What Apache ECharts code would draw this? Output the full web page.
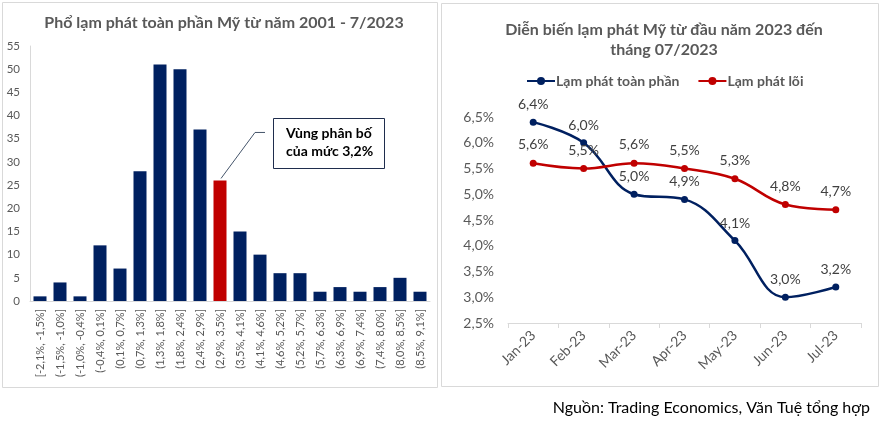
<!DOCTYPE html>
<html><head><meta charset="utf-8">
<script src="https://cdn.jsdelivr.net/npm/echarts@6/dist/echarts.min.js"></script>
<style>html,body{margin:0;padding:0;background:#fff}#c{width:882px;height:428px}</style>
</head><body><div id="c"></div>
<script>
const binLabels = ['[-2,1%, -1,5%]','(-1,5%, -1,0%]','(-1,0%, -0,4%]','(-0,4%, 0,1%]','(0,1%, 0,7%]','(0,7%, 1,3%]','(1,3%, 1,8%]','(1,8%, 2,4%]','(2,4%, 2,9%]','(2,9%, 3,5%]','(3,5%, 4,1%]','(4,1%, 4,6%]','(4,6%, 5,2%]','(5,2%, 5,7%]','(5,7%, 6,3%]','(6,3%, 6,9%]','(6,9%, 7,4%]','(7,4%, 8,0%]','(8,0%, 8,5%]','(8,5%, 9,1%]'];
const binCounts = [1,4,1,12,7,28,51,50,37,26,15,10,6,6,2,3,2,3,5,2];
const highlightIndex = 9;
const months = ['Jan-23','Feb-23','Mar-23','Apr-23','May-23','Jun-23','Jul-23'];
const headline = [6.4,6.0,5.0,4.9,4.1,3.0,3.2];
const core = [5.6,5.5,5.6,5.5,5.3,4.8,4.7];

const FONT = 'Lato, "Open Sans", sans-serif';
const GRAY = '#595959';
const NAVY = '#002060', RED = '#C00000';
const pct = v => v.toFixed(1).replace('.', ',') + '%';

const chart = echarts.init(document.getElementById('c'));
const option = {
  animation: false,
  textStyle: {fontFamily: FONT},
  title: [
    {text: 'Phổ lạm phát toàn phần Mỹ từ năm 2001 - 7/2023', left: 219, top: 10, textAlign: 'center',
     textStyle: {fontFamily: FONT, fontSize: 16, fontWeight: 'bold', color: GRAY}},
    {text: 'Diễn biến lạm phát Mỹ từ đầu năm 2023 đến\ntháng 07/2023', left: 659, top: 15, textAlign: 'center',
     textStyle: {fontFamily: FONT, fontSize: 16, fontWeight: 'bold', color: GRAY, lineHeight: 20}}
  ],
  legend: {
    data: ['Lạm phát toàn phần', 'Lạm phát lõi'], left: 521, top: 69, itemGap: 18, itemWidth: 28, itemHeight: 10,
    textStyle: {fontFamily: FONT, fontSize: 14, fontWeight: 'bold', color: GRAY, padding: [0,0,0,-4]}
  },
  grid: [
    {left: 30, right: 452, top: 46, bottom: 127},
    {left: 508, right: 21, top: 117, bottom: 105}
  ],
  xAxis: [
    {type: 'category', gridIndex: 0, data: binLabels,
     axisLine: {lineStyle: {color: '#d9d9d9'}}, axisTick: {show: false},
     axisLabel: {rotate: 90, fontSize: 11, color: GRAY, fontFamily: FONT, margin: 8, interval: 0}},
    {type: 'category', gridIndex: 1, data: months, boundaryGap: true,
     axisLine: {lineStyle: {color: '#d9d9d9'}}, axisTick: {show: true, length: 5, lineStyle: {color: '#d9d9d9'}},
     axisLabel: {rotate: 45, fontSize: 14, color: GRAY, fontFamily: FONT, margin: 10, interval: 0}}
  ],
  yAxis: [
    {type: 'value', gridIndex: 0, min: 0, max: 55, interval: 5,
     axisLine: {show: true, lineStyle: {color: '#d9d9d9'}}, axisTick: {show: false}, splitLine: {show: false},
     axisLabel: {fontSize: 11.5, color: GRAY, fontFamily: FONT, margin: 10}},
    {type: 'value', gridIndex: 1, min: 2.5, max: 6.5, interval: 0.5,
     axisLine: {show: false}, axisTick: {show: false}, splitLine: {show: false},
     axisLabel: {fontSize: 14, color: GRAY, fontFamily: FONT, margin: 14, formatter: v => pct(v)}}
  ],
  series: [
    {type: 'bar', xAxisIndex: 0, yAxisIndex: 0, barWidth: 13,
     data: binCounts.map((v, i) => ({value: v, itemStyle: {color: i === highlightIndex ? RED : NAVY}}))},
    {name: 'Lạm phát toàn phần', type: 'line', xAxisIndex: 1, yAxisIndex: 1, data: headline, smooth: 0.4,
     color: NAVY, lineStyle: {width: 2.5, color: NAVY}, symbol: 'circle', symbolSize: 7, itemStyle: {color: NAVY},
     label: {show: true, position: 'top', distance: 7, fontSize: 14, color: '#404040', fontFamily: FONT, formatter: p => pct(p.value)}},
    {name: 'Lạm phát lõi', type: 'line', xAxisIndex: 1, yAxisIndex: 1, data: core, smooth: 0.4,
     color: RED, lineStyle: {width: 2.5, color: RED}, symbol: 'circle', symbolSize: 7, itemStyle: {color: RED},
     label: {show: true, position: 'top', distance: 8, fontSize: 14, color: '#404040', fontFamily: FONT, formatter: p => pct(p.value)}}
  ]
};
chart.setOption(option);

const barTop = chart.convertToPixel({xAxisIndex: 0, yAxisIndex: 0}, [highlightIndex, binCounts[highlightIndex]]);
chart.setOption({
  graphic: [
    {type: 'rect', shape: {x: 2.5, y: 2.5, width: 435, height: 385}, style: {fill: 'none', stroke: '#d9d9d9', lineWidth: 1}, silent: true},
    {type: 'rect', shape: {x: 441.5, y: 3.5, width: 437, height: 383}, style: {fill: 'none', stroke: '#d9d9d9', lineWidth: 1}, silent: true},
    {type: 'polyline', shape: {points: [[barTop[0] + 1, barTop[1] - 2], [barTop[0] + 35, barTop[1] - 48], [barTop[0] + 45, barTop[1] - 48]]},
     style: {fill: 'none', stroke: '#44546a', lineWidth: 1}, silent: true},
    {type: 'rect', shape: {x: 273.5, y: 118.5, width: 111, height: 50}, style: {fill: '#fff', stroke: '#1f2d4d', lineWidth: 1}, silent: true},
    {type: 'text', left: 286, top: 124, style: {text: 'Vùng phân bố\ncủa mức 3,2%', font: 'bold 14px ' + FONT, fill: '#000', lineHeight: 18}},
    {type: 'text', right: 12, top: 400, style: {text: 'Nguồn: Trading Economics, Văn Tuệ tổng hợp', font: '16px ' + FONT, fill: '#000'}}
  ]
});
</script></body></html>
